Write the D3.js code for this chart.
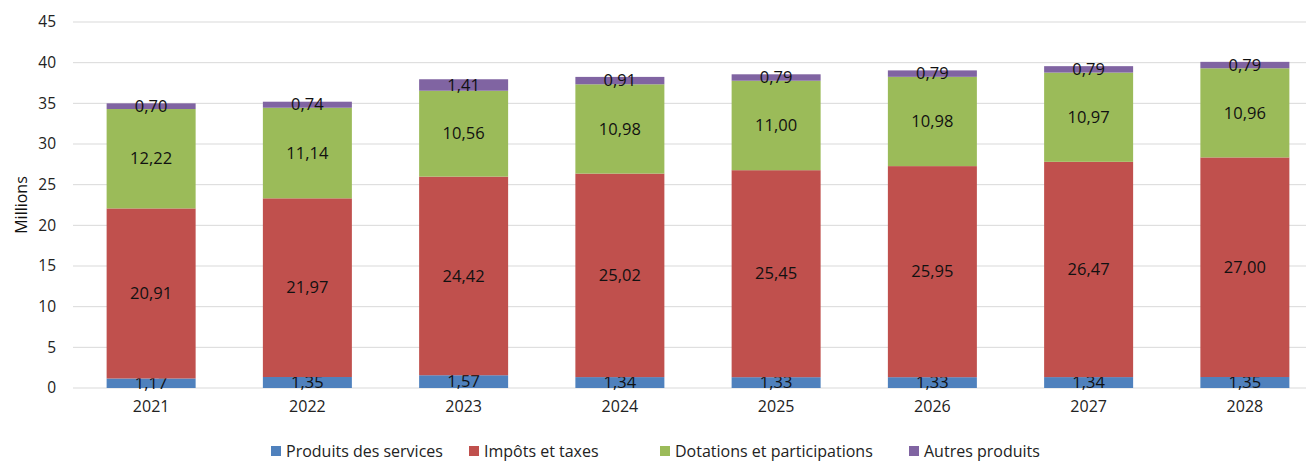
<!DOCTYPE html>
<html><head><meta charset="utf-8">
<script src="https://cdn.jsdelivr.net/npm/d3@7"></script>
<style>body{margin:0;background:#fff;} text{font-family:"Open Sans","Liberation Sans",sans-serif;}</style>
</head><body>
<svg id="c" width="1306" height="462"></svg>
<script>
const years = ["2021","2022","2023","2024","2025","2026","2027","2028"];
const seriesNames = ["Produits des services","Impôts et taxes","Dotations et participations","Autres produits"];
const services = [1.17,1.35,1.57,1.34,1.33,1.33,1.34,1.35];
const impots = [20.91,21.97,24.42,25.02,25.45,25.95,26.47,27.00];
const dotations = [12.22,11.14,10.56,10.98,11.00,10.98,10.97,10.96];
const autres = [0.70,0.74,1.41,0.91,0.79,0.79,0.79,0.79];
const yTicks = [0,5,10,15,20,25,30,35,40,45];
const colors = ["#4F81BD","#C0504D","#9BBB59","#8064A2"];
const FF = '"Open Sans","Liberation Sans",sans-serif';

const svg = d3.select("#c");
const x = d3.scaleBand().domain(years).range([73,1323]).paddingInner(0.43).paddingOuter(0.215);
const y = d3.scaleLinear().domain([0,45]).range([388,22]);

svg.append("g").selectAll("line").data(yTicks).join("line")
  .attr("x1",73).attr("x2",1306).attr("y1",d=>y(d)).attr("y2",d=>y(d))
  .attr("stroke","#d9d9d9").attr("stroke-width",1);

const yAxis = d3.axisLeft(y).tickValues(yTicks).tickSize(0).tickPadding(0).tickFormat(d=>d);
const gy = svg.append("g").attr("transform","translate(56,0)").call(yAxis);
gy.select(".domain").remove();
gy.selectAll("text").attr("font-size",15.5).attr("fill","#222").attr("font-family",FF);

const xAxis = d3.axisBottom(x).tickSize(0).tickPadding(0);
const gx = svg.append("g").attr("transform","translate(0,401)").call(xAxis);
gx.select(".domain").remove();
gx.selectAll("text").attr("font-size",16).attr("fill","#222").attr("font-family",FF);

const rows = years.map((yr,i)=>({year:yr, s0:services[i], s1:impots[i], s2:dotations[i], s3:autres[i]}));
const stack = d3.stack().keys(["s0","s1","s2","s3"])(rows);

const bw = 89;
stack.forEach((layer,k)=>{
  const g = svg.append("g");
  g.selectAll("rect").data(layer).join("rect")
    .attr("x",d=>x(d.data.year)+x.bandwidth()/2-bw/2)
    .attr("width",bw)
    .attr("y",d=>y(d[1]))
    .attr("height",d=>y(d[0])-y(d[1]))
    .attr("fill",colors[k]);
  g.selectAll("text").data(layer).join("text")
    .attr("x",d=>x(d.data.year)+x.bandwidth()/2)
    .attr("y",d=>(y(d[0])+y(d[1]))/2)
    .attr("dy","0.35em")
    .attr("text-anchor","middle")
    .attr("font-size",16.5)
    .attr("fill","#111")
    .text(d=>(d[1]-d[0]).toFixed(2).replace(".",","));
});

svg.append("text").attr("transform","translate(27,205) rotate(-90)")
  .attr("text-anchor","middle").attr("font-size",16).attr("fill","#111").text("Millions");

const legX = [271,469,660,909];
const lg = svg.append("g");
seriesNames.forEach((n,i)=>{
  lg.append("rect").attr("x",legX[i]).attr("y",446).attr("width",10).attr("height",10).attr("fill",colors[i]);
  lg.append("text").attr("x",legX[i]+15).attr("y",451).attr("dy","0.35em").attr("font-size",16).attr("fill","#222").text(n);
});
</script>
</body></html>
